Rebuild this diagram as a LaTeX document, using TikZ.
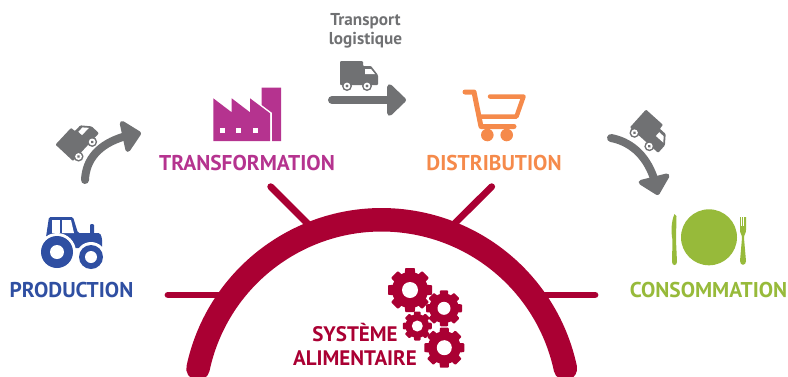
\documentclass[tikz,border=0pt]{standalone}
\usepackage{fontspec}
\setmainfont{PT Sans}
\usetikzlibrary{arrows.meta, bending}
\definecolor{prodblue}{HTML}{2F4FA2}
\definecolor{transmagenta}{HTML}{B5338F}
\definecolor{distorange}{HTML}{F58A4B}
\definecolor{consgreen}{HTML}{97BA3A}
\definecolor{sysred}{HTML}{AA0033}
\definecolor{flowgray}{HTML}{707173}
\tikzset{
x=1pt, y=-1pt,
stagelabel/.style={font=\fontsize{21.4}{22}\selectfont\bfseries, inner sep=0pt},
flowarrow/.style={line width=8pt, line cap=round, flowgray, -{Triangle[width=37pt, length=20pt, line width=6pt, round, flex]}},
ray/.style={line width=6.8pt, line cap=round, sysred},
pics/truck/.style={code={
    \fill[flowgray, rounded corners=1pt] (-18,-14) -- (5,-14) -- (5,-9) -- (13,-9) -- (20,0) -- (20,10) -- (-18,10) -- cycle;
    \fill[white] (7,-6) -- (13,-6) -- (17,-1) -- (7,-1) -- cycle;
    \foreach \wx in {-11,9} {
        \fill[flowgray] (\wx,11) circle (5);
        \fill[white] (\wx,11) circle (3.4);
        \fill[flowgray] (\wx,11) circle (1.6);
    }
}},
pics/gear/.style n args={2}{code={
    \foreach \ga in {0,45,...,315}
        \fill[sysred, rotate=\ga, rounded corners=.8pt] (-.28*#1,0) -- (-.22*#1,-#1) -- (.22*#1,-#1) -- (.28*#1,0) -- cycle;
    \fill[sysred] (0,0) circle (.82*#1);
    \fill[white] (0,0) circle (#2);
}},
}
\begin{document}
\begin{tikzpicture}
    \useasboundingbox (0,0) rectangle (788,376);
    % stage labels
    \node[stagelabel, text=prodblue] (production) at (71.5,290) {PRODUCTION};
    \node[stagelabel, text=transmagenta] (transformation) at (247,163) {TRANSFORMATION};
    \node[stagelabel, text=distorange] (distribution) at (494,163) {DISTRIBUTION};
    \node[stagelabel, text=consgreen] (consommation) at (708.5,290) {CONSOMMATION};
    \node[font=\fontsize{17.2}{19}\selectfont\bfseries, text=flowgray, align=center, inner sep=0pt] (transport) at (365.5,31) {Transport\\logistique};
    \node[font=\fontsize{21}{24}\selectfont\bfseries, text=sysred, align=center, inner sep=0pt] (systeme) at (355,344) {SYSTÈME\\ALIMENTAIRE};

    % tractor
    \fill[prodblue, rounded corners=1.5pt] (46,237) -- (49,217) -- (73,217) -- (78,233) -- (100,233) -- (102,238) -- (102,248) -- (46,248) -- cycle;
    \fill[prodblue, rounded corners=1pt] (90,234) rectangle (94,224);
    \fill[white] (52,220) rectangle (60,233);
    \fill[white] (62,220) -- (71,220) -- (74,233) -- (62,233) -- cycle;
    \fill[white] (57,252) circle (19);
    \fill[white] (91,257) circle (15);
    \fill[prodblue] (57,252) circle (16);
    \fill[white] (57,252) circle (7);
    \fill[prodblue] (91,257) circle (12);
    \fill[white] (91,257) circle (6);

    % factory
    \fill[transmagenta] (213.3,98.3) -- (231.7,112.3) -- (231.7,98.3) -- (250,112.3) -- (250,98.3) -- (270,113.3) -- (270,141) -- (213.3,141) -- cycle;
    \fill[transmagenta] (261.7,87.7) -- (281,87.7) -- (281,141) -- (272,141) -- (272,112.7) -- (261.7,105) -- cycle;
    \foreach \wx in {222.3,238.7,255.3}
        \fill[white] (\wx-2.5,127.5) rectangle (\wx+2.5,132.5);

    % cart
    \draw[distorange, line width=5pt, line cap=round, line join=round] (465,92) -- (474,92) -- (481,126.5) -- (514,126.5);
    \draw[distorange, line width=4.5pt, line cap=round, line join=round] (490,96.5) -- (523.5,96.5) -- (516.5,116.5) -- (480,116.5);
    \fill[distorange] (487.3,135) circle (6.3);
    \fill[distorange] (506.7,135) circle (6.3);

    % plate
    \fill[consgreen] (709,237.3) circle (28);
    \fill[consgreen] (674.5,214) .. controls (671,222) and (671,232) .. (672.5,240) -- (672,262) .. controls (672,266) and (677,266) .. (677,262) -- (676,240) -- (676.5,216) -- cycle;
    \fill[consgreen] (740,217) -- (746,217) -- (746,230) .. controls (746,234) and (744,234) .. (744,238) -- (746,261) .. controls (746,266) and (740,266) .. (740,261) -- (742,238) .. controls (742,234) and (740,234) .. (740,230) -- cycle;
    \foreach \fx in {741.7,743.3}
        \draw[white, line width=.5pt] (\fx,217) -- (\fx,226);

    % flows
    \coordinate (flowa) at (85,180);
    \coordinate (flowatip) at (141,133);
    \coordinate (flowb) at (332,100);
    \coordinate (flowbtip) at (406,100);
    \coordinate (flowc) at (611,138);
    \coordinate (flowctip) at (658,195);
    \draw[flowarrow] (flowa) .. controls (86,155) and (105,138) .. (flowatip);
    \draw[flowarrow] (flowb) -- (flowbtip);
    \draw[flowarrow] (flowc) .. controls (632,142) and (652,158) .. (flowctip);
    \pic at (78,141) [rotate=47] {truck};
    \pic at (358,75) {truck};
    \pic at (650,132) [rotate=-42] {truck};

    % arc and rays
    \coordinate (rayw) at (168,295);
    \coordinate (raywend) at (228,295);
    \coordinate (raynw) at (270.7,186.7);
    \coordinate (raynwend) at (315,231);
    \coordinate (rayne) at (491.7,186.7);
    \coordinate (rayneend) at (447,231);
    \coordinate (raye) at (595,295);
    \coordinate (rayeend) at (535,295);
    \draw[ray] (rayw) -- (raywend);
    \draw[ray] (raynw) -- (raynwend);
    \draw[ray] (rayne) -- (rayneend);
    \draw[ray] (raye) -- (rayeend);
    \begin{scope}
        \clip (0,0) rectangle (788,376);
        \draw[sysred, line width=23.5pt, line cap=round] (381.7,407.6) ++(192:187.8) arc[start angle=192, end angle=348, radius=187.8];
    \end{scope}

    % gears
    \pic at (410,290) {gear={22}{8}};
    \pic at (444,308.3) {gear={18}{6.5}};
    \pic at (417.3,326) {gear={14.5}{5.5}};
    \pic at (444.3,347.7) {gear={20}{7.5}};
\end{tikzpicture}
\end{document}
